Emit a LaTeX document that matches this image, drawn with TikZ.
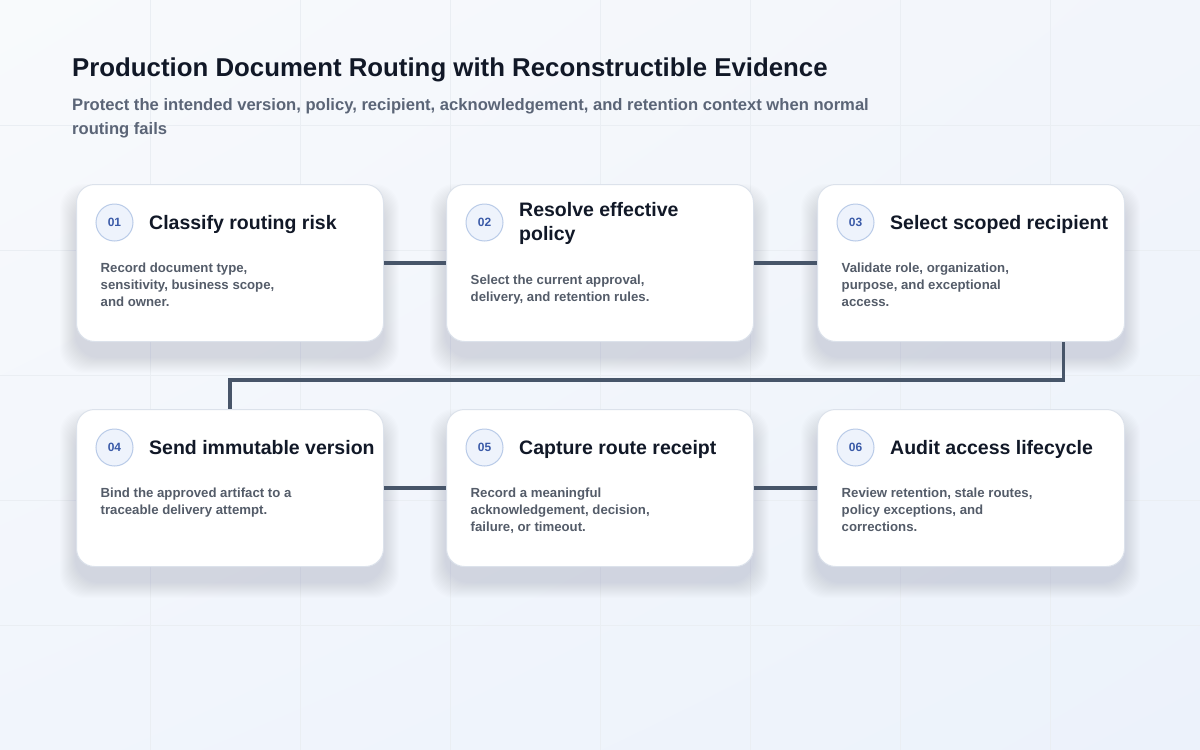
\documentclass[tikz,border=0pt]{standalone}
\usepackage{fontspec}
\setmainfont{Liberation Sans}
\usetikzlibrary{calc}
\usetikzlibrary{positioning}
\usetikzlibrary{shadings}
\definecolor{bgA}{HTML}{F8FAFC}
\definecolor{bgB}{HTML}{F2F5FB}
\definecolor{bgC}{HTML}{F1F5FC}
\definecolor{bgD}{HTML}{ECF2FB}
\definecolor{gridcol}{HTML}{EAEEF3}
\definecolor{shadowcol}{HTML}{2A3A66}
\definecolor{ink}{HTML}{111827}
\definecolor{subink}{HTML}{5B6577}
\definecolor{bodyink}{HTML}{545C69}
\definecolor{cardline}{HTML}{DCE2EB}
\definecolor{numfill}{HTML}{EEF3FC}
\definecolor{numline}{HTML}{B9CBE8}
\definecolor{numink}{HTML}{3A5AA8}
\definecolor{linkcol}{HTML}{475569}

\begin{document}
\begin{tikzpicture}[x=1pt,y=-1pt,
    card/.style={draw=cardline,line width=1pt,fill=white,rounded corners=18pt,
        minimum width=307pt,minimum height=157pt,anchor=north west,inner sep=0pt},
    num/.style={circle,draw=numline,fill=numfill,line width=1pt,minimum size=37pt,inner sep=0pt,
        text=numink,font=\bfseries\fontsize{12}{14}\selectfont},
    ctitle/.style={anchor=base west,align=left,inner sep=0pt,text=ink,
        font=\bfseries\fontsize{19.5}{24}\selectfont},
    cbody/.style={anchor=base west,align=left,inner sep=0pt,text=bodyink,
        font=\bfseries\fontsize{13.2}{17}\selectfont},
    link/.style={draw=linkcol,line width=3.5pt}]
    \useasboundingbox (0,0) rectangle (1200,750);
    % background and faint grid
    \shade[upper left=bgA,upper right=bgB,lower left=bgC,lower right=bgD] (0,0) rectangle (1200,750);
    \foreach \gx in {150,300,...,1050}
        \draw[gridcol,line width=0.8pt] (\gx,0) -- (\gx,750);
    \foreach \gy in {125,250,...,625}
        \draw[gridcol,line width=0.8pt] (0,\gy) -- (1200,\gy);
    % soft shadows under the cards
    \foreach \cx/\cy in {76/184,446/184,817/184,76/409,446/409,817/409}
        \foreach \k [evaluate=\k as \e using \k*2.8-10] in {1,...,16}
            \fill[shadowcol,opacity=0.0065,rounded corners=24pt]
                ({\cx-\e},{\cy+16-\e}) rectangle ({\cx+307+\e},{\cy+173+\e});
    % heading
    \node[anchor=base west,inner sep=0pt,text=ink,font=\bfseries\fontsize{25.8}{30}\selectfont]
        (title) at (72,76.5) {Production Document Routing with Reconstructible Evidence};
    \node[anchor=base west,inner sep=0pt,text=subink,font=\bfseries\fontsize{16.6}{24}\selectfont]
        (sub1) at (72,110) {Protect the intended version, policy, recipient, acknowledgement, and retention context when normal};
    \node[anchor=base west,inner sep=0pt,text=subink,font=\bfseries\fontsize{16.6}{24}\selectfont]
        (sub2) at (72,134) {routing fails};
    % cards
    \node[card] (c1) at (76,184) {};
    \node[card] (c2) at (446,184) {};
    \node[card] (c3) at (817,184) {};
    \node[card] (c4) at (76,409) {};
    \node[card] (c5) at (446,409) {};
    \node[card] (c6) at (817,409) {};
    % card 1
    \node[num] (n1) at ($(c1.north west)+(38.5,38.5)$) {01};
    \node[ctitle] (t1) at ($(c1.north west)+(73,45)$) {Classify routing risk};
    \node[cbody] (b1) at ($(c1.north west)+(24.5,122)$) {Record document type,\\sensitivity, business scope,\\and owner.};
    % card 2
    \node[num] (n2) at ($(c2.north west)+(38.5,38.5)$) {02};
    \node[ctitle] (t2) at ($(c2.north west)+(73,56)$) {Resolve effective\\policy};
    \node[cbody] (b2) at ($(c2.north west)+(24.5,117.5)$) {Select the current approval,\\delivery, and retention rules.};
    % card 3
    \node[num] (n3) at ($(c3.north west)+(38.5,38.5)$) {03};
    \node[ctitle] (t3) at ($(c3.north west)+(73,45)$) {Select scoped recipient};
    \node[cbody] (b3) at ($(c3.north west)+(24.5,122)$) {Validate role, organization,\\purpose, and exceptional\\access.};
    % card 4
    \node[num] (n4) at ($(c4.north west)+(38.5,38.5)$) {04};
    \node[ctitle] (t4) at ($(c4.north west)+(73,45)$) {Send immutable version};
    \node[cbody] (b4) at ($(c4.north west)+(24.5,105)$) {Bind the approved artifact to a\\traceable delivery attempt.};
    % card 5
    \node[num] (n5) at ($(c5.north west)+(38.5,38.5)$) {05};
    \node[ctitle] (t5) at ($(c5.north west)+(73,45)$) {Capture route receipt};
    \node[cbody] (b5) at ($(c5.north west)+(24.5,122)$) {Record a meaningful\\acknowledgement, decision,\\failure, or timeout.};
    % card 6
    \node[num] (n6) at ($(c6.north west)+(38.5,38.5)$) {06};
    \node[ctitle] (t6) at ($(c6.north west)+(73,45)$) {Audit access lifecycle};
    \node[cbody] (b6) at ($(c6.north west)+(24.5,122)$) {Review retention, stale routes,\\policy exceptions, and\\corrections.};
    % connectors
    \coordinate (drop) at ($(c3.south west)!0.8!(c3.south east)$);
    \draw[link] (c1.east) -- (c2.west);
    \draw[link] (c2.east) -- (c3.west);
    \draw[link] (drop) -- ++(0,38) -| (c4.north);
    \draw[link] (c4.east) -- (c5.west);
    \draw[link] (c5.east) -- (c6.west);
\end{tikzpicture}
\end{document}
